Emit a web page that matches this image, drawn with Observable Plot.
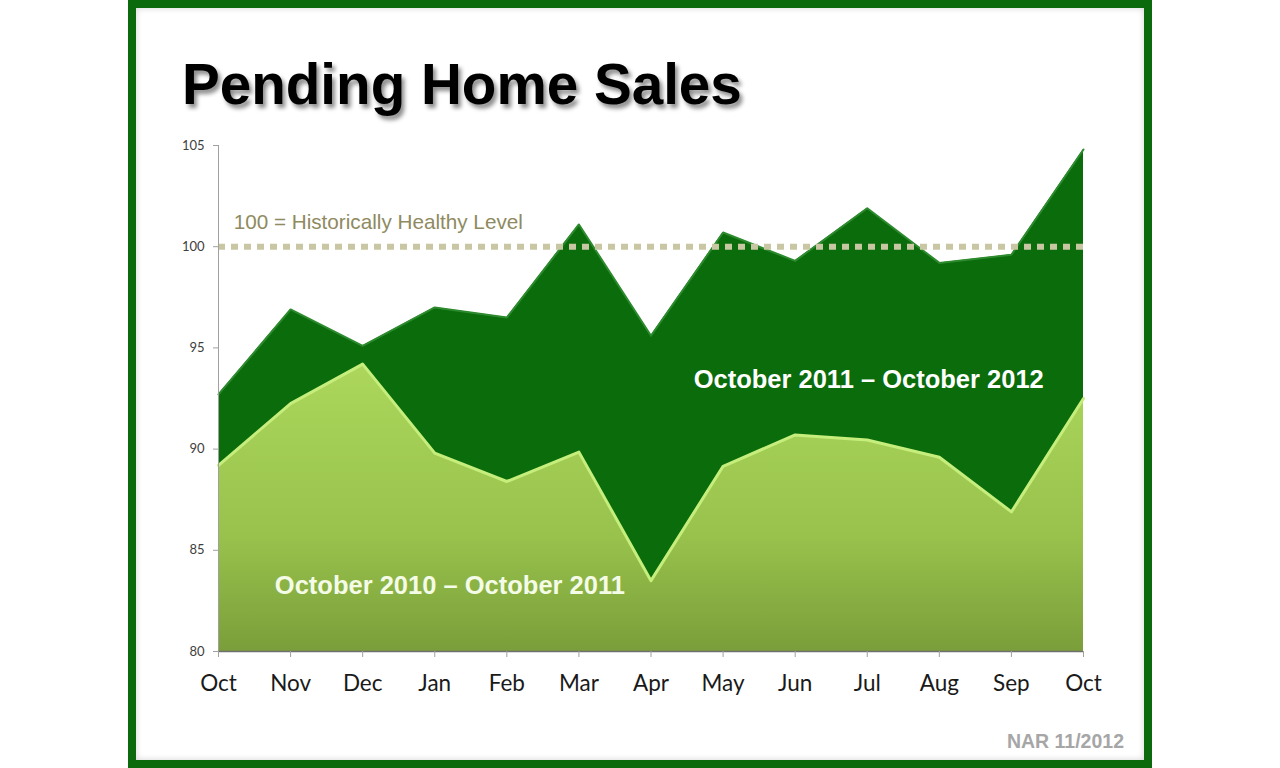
<!DOCTYPE html>
<html>
<head>
<meta charset="utf-8">
<script src="https://cdn.jsdelivr.net/npm/d3@7"></script>
<script src="https://cdn.jsdelivr.net/npm/@observablehq/plot@0.6"></script>
<style>
  html, body { margin: 0; padding: 0; background: #ffffff; }
  #page { position: relative; width: 1280px; height: 768px; overflow: hidden; background: #fff; }
  #frame { position: absolute; left: 128px; top: 0; width: 1024px; height: 768px; box-sizing: border-box;
           border: 8px solid #0b6a0b; box-shadow: inset 0 0 6px rgba(0,0,0,0.18); }
  #title { position: absolute; left: 182px; top: 57px; font-family: "Liberation Sans", Arial, sans-serif;
           font-weight: bold; font-size: 56.6px; line-height: 1; color: #000;
           text-shadow: 3px 4px 4px rgba(0,0,0,0.45); white-space: nowrap; }
  #chart { position: absolute; left: 0; top: 120px; }
  #source { position: absolute; right: 156px; top: 732px; font-family: "Liberation Sans", Arial, sans-serif;
            font-weight: bold; font-size: 19.5px; line-height: 1; color: #a6a6a6; }
</style>
</head>
<body>
<div id="page">
  <div id="frame"></div>
  <div id="title">Pending Home Sales</div>
  <div id="chart"></div>
  <div id="source">NAR 11/2012</div>
</div>
<script>
const months = ["Oct","Nov","Dec","Jan","Feb","Mar","Apr","May","Jun","Jul","Aug","Sep","Oct"];
const sales2011to2012 = [92.7, 96.9, 95.1, 97.0, 96.5, 101.1, 95.6, 100.7, 99.3, 101.9, 99.2, 99.6, 104.8];
const sales2010to2011 = [89.2, 92.25, 94.2, 89.8, 88.4, 89.85, 83.5, 89.15, 90.7, 90.45, 89.6, 86.9, 92.5];
const yTicks = [80, 85, 90, 95, 100, 105];
const healthyLevel = 100;
const seriesLabels = ["October 2010 \u2013 October 2011", "October 2011 \u2013 October 2012"];
const healthyLabel = "100 = Historically Healthy Level";

const rows = months.map((m, i) => ({i, month: m, prev: sales2010to2011[i], curr: sales2011to2012[i]}));

const gradientDefs = () => {
  const ns = "http://www.w3.org/2000/svg";
  const defs = document.createElementNS(ns, "defs");
  defs.innerHTML =
    '<linearGradient id="lightGrad" x1="0" y1="0" x2="0" y2="1">' +
    '<stop offset="0" stop-color="#acd75c"/>' +
    '<stop offset="0.6" stop-color="#98c24c"/>' +
    '<stop offset="1" stop-color="#7a9e3a"/>' +
    '</linearGradient>';
  return defs;
};

const chart = Plot.plot({
  width: 1280,
  height: 600,
  marginLeft: 218,
  marginRight: 197,
  marginTop: 25,
  marginBottom: 69,
  style: {fontFamily: "Lato, 'Open Sans', sans-serif", background: "transparent", overflow: "visible"},
  x: {type: "linear", domain: [0, months.length - 1], axis: null, label: null},
  y: {domain: [80, 105], axis: null, label: null},
  marks: [
    gradientDefs,
    Plot.areaY(rows, {x: "i", y1: 80, y2: "curr", fill: "#0a6c0b"}),
    Plot.line(rows, {x: "i", y: "curr", stroke: "#2e8a2e", strokeWidth: 2}),
    Plot.ruleY([healthyLevel], {x1: 0, x2: months.length - 1, stroke: "#c9c6a3", strokeWidth: 6, strokeDasharray: "7,6"}),
    Plot.areaY(rows, {x: "i", y1: 80, y2: "prev", fill: "url(#lightGrad)"}),
    Plot.line(rows, {x: "i", y: "prev", stroke: "#c6ee7c", strokeWidth: 3}),
    Plot.ruleX([0], {y1: 80, y2: 105, stroke: "#a0a0a0", strokeWidth: 1}),
    Plot.ruleY([80], {x1: 0, x2: months.length - 1, stroke: "#6f6f6f", strokeWidth: 1.5}),
    Plot.axisY({ticks: yTicks, label: null, tickSize: 5, tickPadding: 9, fontSize: 13, stroke: "#a0a0a0", fill: "#404040"}),
    Plot.axisX({ticks: d3.range(months.length), label: null, tickFormat: i => months[i], tickSize: 6, tickPadding: 18,
                fontSize: 22.5, stroke: "#a0a0a0", fill: "#1a1a1a"}),
    Plot.text([healthyLabel], {x: () => 0.21, y: () => 101.2, text: d => d, textAnchor: "start",
               fill: "#8f8a5f", fontSize: 20.7, fontFamily: "Liberation Sans, Arial, sans-serif"}),
    Plot.text([seriesLabels[1]], {x: () => 9.02, y: () => 93.4, text: d => d, fill: "#ffffff", fontWeight: "bold",
               fontSize: 25.5, fontFamily: "Liberation Sans, Arial, sans-serif"}),
    Plot.text([seriesLabels[0]], {x: () => 3.21, y: () => 83.26, text: d => d, fill: "#f4fbe6", fontWeight: "bold",
               fontSize: 25.5, fontFamily: "Liberation Sans, Arial, sans-serif"})
  ]
});
document.getElementById("chart").appendChild(chart);
</script>
</body>
</html>
